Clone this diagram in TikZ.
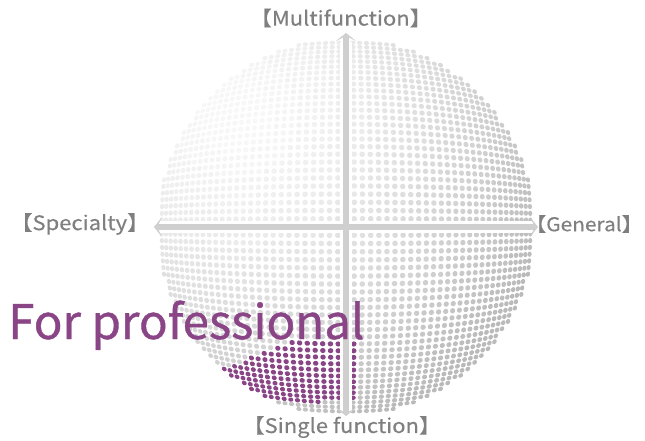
\documentclass[tikz,border=0pt]{standalone}
\usepackage{fontspec}
\newfontfamily\bigfont[FakeBold=0.8]{Noto Sans CJK JP}
\newfontfamily\labfont[FakeStretch=1.1,FakeBold=0.4]{Noto Sans CJK JP}
\usetikzlibrary{arrows.meta}
\definecolor{prof}{HTML}{8A4587}
\definecolor{axisgray}{HTML}{CFCFCF}
\definecolor{labelgray}{HTML}{7F7F7F}
\newcommand{\lbr}{\hspace{-0.42em}【}
\newcommand{\rbr}{】\hspace{-0.42em}}
\tikzset{
  lab/.style={text=labelgray, font=\labfont\fontsize{20}{22}\selectfont, inner sep=0pt},
  bigtext/.style={text=prof, font=\bigfont\fontsize{47.5}{52}\selectfont, inner sep=0pt},
  halo/.style={white, line width=12pt},
  axisline/.style={axisgray, line width=6.5pt,
     {Stealth[length=8pt,width=20pt,inset=5pt]}-{Stealth[length=8pt,width=20pt,inset=5pt]}}
}
\begin{document}
\begin{tikzpicture}[x=1pt,y=-1pt]
\useasboundingbox (0,0) rectangle (645,441);
% dotted sphere (spherized grid)
\foreach \i in {-28,...,28}{
  \foreach \j in {-28,...,28}{
    \pgfmathsetmacro{\tt}{62*sqrt(\i*\i+\j*\j)/27.9}
    \ifdim \tt pt < 62pt
      \pgfmathsetmacro{\rr}{188*sin(\tt)/sin(62)}
      \pgfmathsetmacro{\kk}{\rr/max(sqrt(\i*\i+\j*\j),0.001)}
      \pgfmathsetmacro{\px}{346+\i*\kk}
      \pgfmathsetmacro{\py}{227+\j*\kk}
      \pgfmathsetmacro{\ra}{2.85*(0.5+0.5*cos(\tt))}
      \pgfmathsetmacro{\rb}{2.85*(0.85+0.15*cos(\tt))}
      \pgfmathsetmacro{\phi}{atan2(-\j,\i+0.0001)}
      \pgfmathtruncatemacro{\sh}{min(27,3+21*(veclen(\px-235,\py-115)/300)^1.5)}
      \pgfmathtruncatemacro{\isp}{((\px<356)&&(\py>338)&&(\py<402)&&(\py>338+0.4*(300-\px)))?1:0}
      \ifnum\isp=1
        \fill[prof, rotate around={\phi:(\px,\py)}] (\px,\py) ellipse[x radius=\ra pt, y radius=\rb pt];
      \else
        \fill[black!\sh, rotate around={\phi:(\px,\py)}] (\px,\py) ellipse[x radius=\ra pt, y radius=\rb pt];
      \fi
    \fi
  }
}
% axes
\coordinate (top) at (346,33);
\coordinate (bot) at (346,416);
\coordinate (lft) at (154,227);
\coordinate (rgt) at (538,227);
\coordinate (htop) at (346,42);
\coordinate (hbot) at (346,412);
\coordinate (hlft) at (160,227);
\coordinate (hrgt) at (532,227);
\draw[halo] (htop) -- (hbot);
\draw[halo] (hlft) -- (hrgt);
\draw[axisline] (top) -- (bot);
\draw[axisline] (lft) -- (rgt);
% labels
\node[lab] (multi) at (345,18) {\lbr Multifunction\rbr};
\node[lab] (spec) at (84,224) {\lbr Specialty\rbr};
\node[lab, font=\labfont\fontsize{19}{21}\selectfont] (gen) at (588,224) {\lbr General\rbr};
\node[lab] (single) at (346,427) {\lbr Single function\rbr};
\node[bigtext, anchor=base west] (fp) at (8,339) {For professional};
\end{tikzpicture}
\end{document}
